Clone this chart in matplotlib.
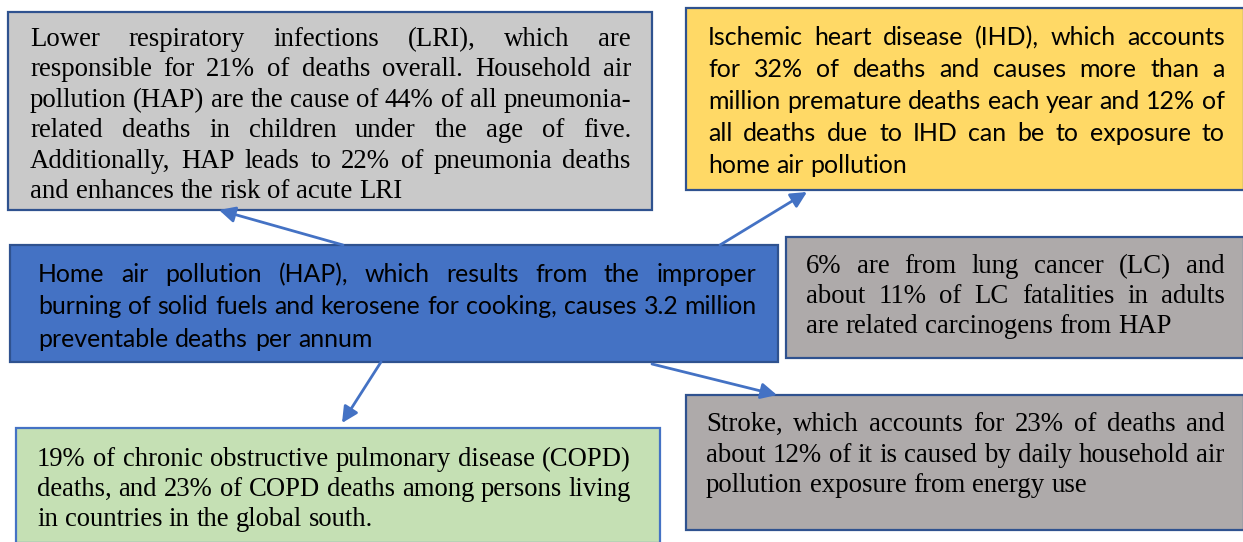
import matplotlib
matplotlib.use("Agg")
import matplotlib.pyplot as plt
from matplotlib.patches import Rectangle, FancyArrowPatch

# text of each box, line by line as in the source figure
lri_lines = [
    "Lower respiratory infections (LRI), which are",
    "responsible for 21% of deaths overall. Household air",
    "pollution (HAP) are the cause of 44% of all pneumonia-",
    "related deaths in children under the age of five.",
    "Additionally, HAP leads to 22% of pneumonia deaths",
    "and enhances the risk of acute LRI",
]
ihd_lines = [
    "Ischemic heart disease (IHD), which accounts",
    "for 32% of deaths and causes more than a",
    "million premature deaths each year and 12% of",
    "all deaths due to IHD can be to exposure to",
    "home air pollution",
]
hap_lines = [
    "Home air pollution (HAP), which results from the improper",
    "burning of solid fuels and kerosene for cooking, causes 3.2 million",
    "preventable deaths per annum",
]
lc_lines = [
    "6% are from lung cancer (LC) and",
    "about 11% of LC fatalities in adults",
    "are related carcinogens from HAP",
]
stroke_lines = [
    "Stroke, which accounts for 23% of deaths and",
    "about 12% of it is caused by daily household air",
    "pollution exposure from energy use",
]
copd_lines = [
    "19% of chronic obstructive pulmonary disease (COPD)",
    "deaths, and 23% of COPD deaths among persons living",
    "in countries in the global south.",
]

W, H = 1243, 542
SERIF = ["Liberation Serif", "DejaVu Serif"]
SANS = ["Lato", "DejaVu Sans"]
BLUE = "#4472c4"
EDGE = "#2f528f"

# box: (lines, rect x0, y0, x1, y1, fill, edge, text x0, x1, first baseline, line step, font)
boxes = [
    (lri_lines, 8, 12, 652, 210, "#c9c9c9", EDGE, 30, 631, 46, 30.4, SERIF),
    (ihd_lines, 686, 8, 1244, 190, "#ffd966", EDGE, 708, 1225, 45, 32.0, SANS),
    (hap_lines, 10, 245, 778, 362, BLUE, EDGE, 38, 757, 282, 32.5, SANS),
    (lc_lines, 786, 237, 1244, 358, "#aeaaaa", EDGE, 806, 1225, 273, 30.0, SERIF),
    (stroke_lines, 686, 395, 1244, 530, "#aeaaaa", EDGE, 706, 1225, 431, 30.5, SERIF),
    (copd_lines, 16, 428, 660, 543, "#c5e0b4", BLUE, 37, 631, 466, 30.0, SERIF),
]

arrows = [
    ((343, 245), (219, 210)),
    ((720, 245), (807, 192)),
    ((381, 362), (342, 423)),
    ((652, 364), (777, 395)),
]

fig = plt.figure(figsize=(W / 100, H / 100), dpi=100)
ax = fig.add_axes([0, 0, 1, 1])
ax.set_xlim(0, W)
ax.set_ylim(H, 0)
ax.axis("off")
renderer = fig.canvas.get_renderer()


def width_of(t):
    return t.get_window_extent(renderer).width


def draw_box(lines, bx0, by0, bx1, by1, fill, edge, tx0, tx1, y0, step, family,
             size=None):
    ax.add_patch(Rectangle((bx0, by0), bx1 - bx0, by1 - by0, facecolor=fill,
                           edgecolor=edge, linewidth=1.6, zorder=1))
    base = 10.0
    probe = ax.text(0, 0, "x x", family=family, fontsize=base)
    probe2 = ax.text(0, 0, "xx", family=family, fontsize=base)
    space = width_of(probe) - width_of(probe2)
    probe.remove()
    probe2.remove()

    rows = []
    for i, line in enumerate(lines):
        yb = y0 + i * step
        words = [ax.text(0, yb, w, family=family, fontsize=base, va="baseline",
                         ha="left", color="black", zorder=3) for w in line.split()]
        rows.append((words, [width_of(t) for t in words]))

    # fit the tightest line to the text width unless a size is given
    if size is None:
        natural = [sum(ws) + space * (len(ws) - 1) for _, ws in rows[:-1]]
        size = base * (tx1 - tx0) / max(natural)
    scale = size / base
    for n, (words, ws) in enumerate(rows):
        ws = [w * scale for w in ws]
        last = n == len(rows) - 1
        if last or len(words) == 1:
            gap = space * scale
        else:
            gap = (tx1 - tx0 - sum(ws)) / (len(words) - 1)
        x = tx0
        for t, w in zip(words, ws):
            t.set_fontsize(size)
            t.set_x(x)
            x += w + gap
    return size


lri_size = draw_box(*boxes[0])
for b in boxes[1:]:
    if b[0] is lc_lines:
        draw_box(*b, size=lri_size)
    else:
        draw_box(*b)

for start, end in arrows:
    ax.add_patch(FancyArrowPatch(start, end, arrowstyle="-|>", mutation_scale=24,
                                 color=BLUE, linewidth=2, shrinkA=0, shrinkB=0,
                                 zorder=2))

fig.savefig("out.png", dpi=100)
